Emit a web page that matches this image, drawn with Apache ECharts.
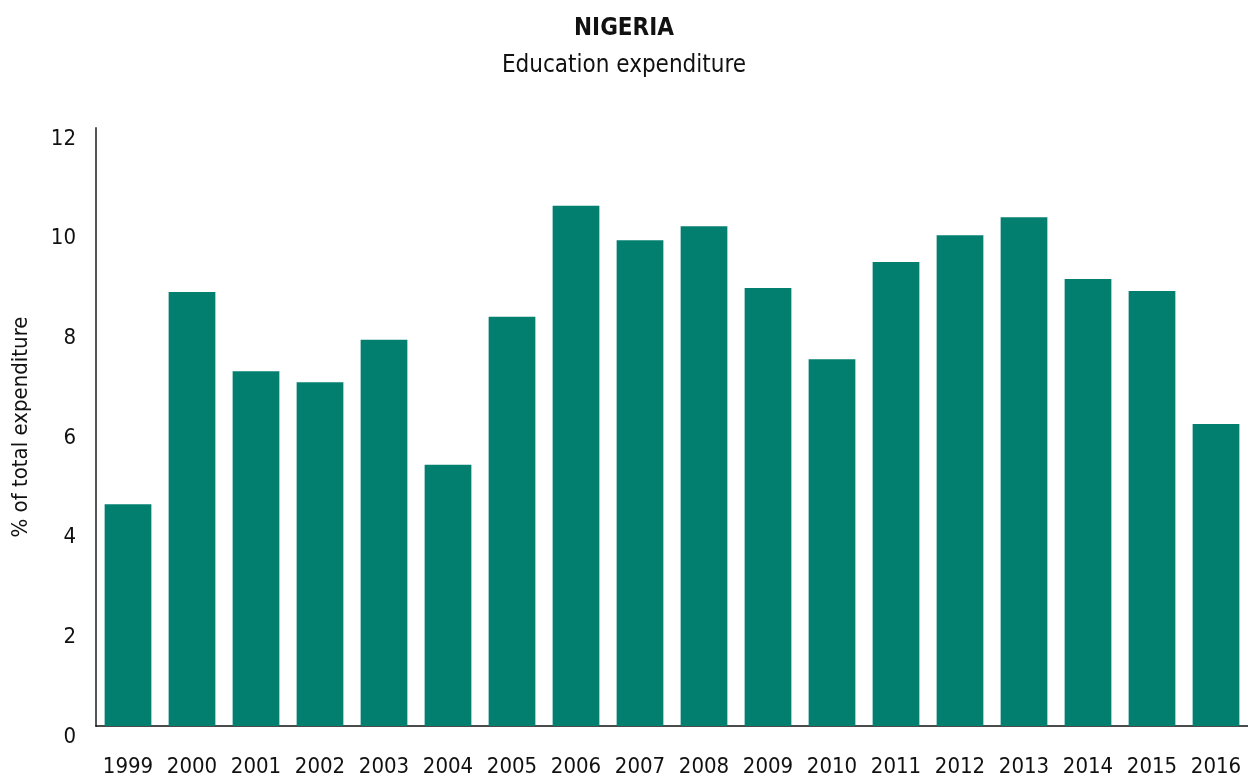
<!DOCTYPE html>
<html>
<head>
<meta charset="utf-8">
<script src="https://cdn.jsdelivr.net/npm/echarts@6/dist/echarts.min.js"></script>
<style>
html, body { margin: 0; padding: 0; background: #fff; }
#main { width: 1248px; height: 780px; }
</style>
</head>
<body>
<div id="main"></div>
<script>
var years = ['1999', '2000', '2001', '2002', '2003', '2004', '2005', '2006', '2007',
    '2008', '2009', '2010', '2011', '2012', '2013', '2014', '2015', '2016'];
// % of total expenditure
var eduShare = [4.45, 8.71, 7.12, 6.9, 7.75, 5.24, 8.21, 10.44, 9.75,
    10.03, 8.79, 7.36, 9.31, 9.85, 10.21, 8.97, 8.73, 6.06];
var yTicks = [0, 2, 4, 6, 8, 10, 12];

var font = '"Liberation Sans Narrow", "DejaVu Sans Condensed", "Liberation Sans", sans-serif';

var myChart = echarts.init(document.getElementById('main'));
var option = {
    animation: false,
    textStyle: { fontFamily: font },
    title: {
        text: 'NIGERIA',
        subtext: 'Education expenditure',
        left: 'center',
        top: 12,
        itemGap: 13,
        textStyle: { fontFamily: font, fontSize: 24, fontWeight: 'bold', color: '#111' },
        subtextStyle: { fontFamily: font, fontSize: 24, color: '#111' }
    },
    grid: { left: 96, right: 0, top: 128, bottom: 54 },
    xAxis: {
        type: 'category',
        data: years,
        axisLine: { lineStyle: { color: '#111', width: 1.5 } },
        axisTick: { show: false },
        axisLabel: { color: '#111', fontSize: 22, margin: 30, interval: 0, hideOverlap: false, fontFamily: font }
    },
    yAxis: {
        type: 'value',
        min: yTicks[0],
        max: yTicks[yTicks.length - 1],
        interval: 2,
        name: '% of total expenditure',
        nameLocation: 'middle',
        nameGap: 64,
        nameTextStyle: { color: '#111', fontSize: 22, fontFamily: font },
        axisLine: { show: true, lineStyle: { color: '#555', width: 2 } },
        axisTick: { show: false },
        splitLine: { show: false },
        axisLabel: { color: '#111', fontSize: 22, margin: 20, verticalAlign: 'top', fontFamily: font }
    },
    series: [{
        type: 'bar',
        data: eduShare,
        barWidth: '73%',
        itemStyle: { color: '#037F6F' }
    }]
};
myChart.setOption(option);
</script>
</body>
</html>
